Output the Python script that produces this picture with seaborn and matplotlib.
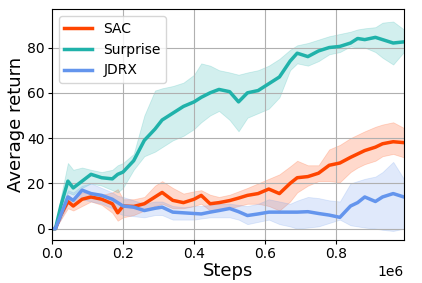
import numpy as np
import pandas as pd
import matplotlib
matplotlib.use("Agg")
import matplotlib.pyplot as plt
import seaborn as sns

# ── Data ──────────────────────────────────────────────────────
steps = [0, 0.01, 0.025, 0.045, 0.06, 0.085, 0.11, 0.14, 0.17, 0.185,
         0.2, 0.23, 0.26, 0.29, 0.31, 0.34, 0.37, 0.4, 0.42, 0.445,
         0.47, 0.5, 0.525, 0.55, 0.58, 0.61, 0.64, 0.67, 0.69, 0.72,
         0.75, 0.78, 0.81, 0.84, 0.86, 0.88, 0.91, 0.93, 0.96, 0.99]

sac_mean = [0, 0, 6, 12, 10, 13, 14, 13, 11, 7,
            10, 9.8, 11, 14, 16, 12.5, 11.5, 13, 14.7, 11,
            11.5, 12.4, 13.5, 14.7, 15.5, 17.5, 15.5, 20, 22.5, 23,
            24.5, 28, 29, 31.5, 33, 34.5, 36, 37.5, 38.4, 38]
sac_upper = [0, 0, 8, 15, 13, 16, 16, 15, 16, 17.5,
             13, 13, 14, 19, 21, 18, 15.5, 16.5, 17, 15,
             14, 15, 16.5, 18, 20, 22, 24, 27.5, 30, 28,
             28, 35, 37, 40, 41.5, 43, 45, 46, 47, 44.5]
sac_lower = [0, 0, 4, 9, 8, 10, 12, 10.5, 7, 3.5,
             5, 6, 8, 10, 11, 9, 9, 10, 11, 8,
             8.5, 9, 10, 11, 11, 10, 8, 12, 16, 19,
             21, 21, 20.5, 25, 27, 28.5, 30, 32, 33, 31.5]

surprise_mean = [0, 0, 10, 21, 18, 21, 24, 22.5, 22, 24,
                 25, 30, 39, 44, 48, 51, 54, 56, 58, 60,
                 61.5, 60.5, 56, 60, 61, 64, 67, 74, 77.5, 76,
                 78.5, 80, 80.5, 82, 84, 83.5, 84.5, 83.5, 82, 82.5]
surprise_upper = [0, 0, 14, 29, 26, 27, 26, 25, 26, 28,
                  29, 33, 50, 61, 62, 63, 64.5, 68, 73, 72,
                  70, 69, 68, 69, 70, 72, 75, 79, 81, 82,
                  83.5, 85, 86, 87, 88, 88.5, 89, 91, 91.5, 88]
surprise_lower = [0, 0, 7, 16, 15, 18, 20, 19, 17, 16,
                  18, 26, 32, 34, 36, 39, 41, 44, 47, 50,
                  52, 48, 43, 49, 51, 53, 58, 70, 73, 72,
                  74, 77, 78, 80.5, 80, 80, 78, 75.5, 72.5, 78]

jdrx_mean = [0, 0, 6, 14, 12.5, 17, 15.5, 14.7, 13, 11.5,
             10, 9.5, 8, 9, 9.5, 7.3, 7, 6.7, 6.5, 7.3,
             8, 8.9, 7.5, 5.8, 6.5, 7.3, 7.3, 7.3, 7.3, 7.5,
             6.7, 6, 5, 10, 11.5, 14, 12, 14, 15.5, 14]
jdrx_upper = [0, 0, 8, 17, 16, 19, 20, 18, 16, 14.5,
              14, 12.5, 11, 12, 12, 10, 9.5, 10, 10, 10.5,
              11, 11, 10.5, 10, 11, 13, 12, 11, 12.4, 14,
              13.5, 12.5, 12, 20, 21, 22, 23, 25, 29.5, 22]
jdrx_lower = [0, 0, 4, 11, 10, 13, 12, 11, 9, 7,
              6, 5.5, 5, 6, 6, 4, 4, 4, 4.5, 5,
              5, 5, 4, 2, 3, 4, 2, 1, 0, 0.5,
              1, 2.5, 4, 1.5, 1, 0.5, 0, -0.5, -1, 0]

SERIES = [
    ("SAC", sac_mean, sac_lower, sac_upper, "#ff4500"),
    ("Surprise", surprise_mean, surprise_lower, surprise_upper, "#20b2aa"),
    ("JDRX", jdrx_mean, jdrx_lower, jdrx_upper, "#6495ed"),
]

fig = plt.figure(figsize=(4.22, 2.83), dpi=100)
ax = fig.add_axes([0.123, 0.152, 0.834, 0.816])

x = np.array(steps) * 1e6
for name, mean, lo, hi, color in SERIES:
    df = pd.DataFrame({"Steps": x, "ret": mean})
    sns.lineplot(data=df, x="Steps", y="ret", color=color, linewidth=2.5,
                 label=name, ax=ax)
    ax.fill_between(x, lo, hi, color=color, alpha=0.2, linewidth=0.6)

ax.set_xlim(0, 0.99e6)
ax.set_ylim(-5, 97)
ax.set_yticks([0, 20, 40, 60, 80])
ax.set_xticks([0, 0.2e6, 0.4e6, 0.6e6, 0.8e6])
ax.ticklabel_format(style="sci", axis="x", scilimits=(6, 6))
ax.grid(True, color="#b0b0b0", linewidth=0.8)
ax.tick_params(labelsize=10, length=3, pad=2)
ax.set_xlabel("Steps", fontsize=13, labelpad=1)
ax.set_ylabel("Average return", fontsize=13, labelpad=2)
ax.legend(loc="upper left", fontsize=10)

fig.savefig("out.png", dpi=100)
